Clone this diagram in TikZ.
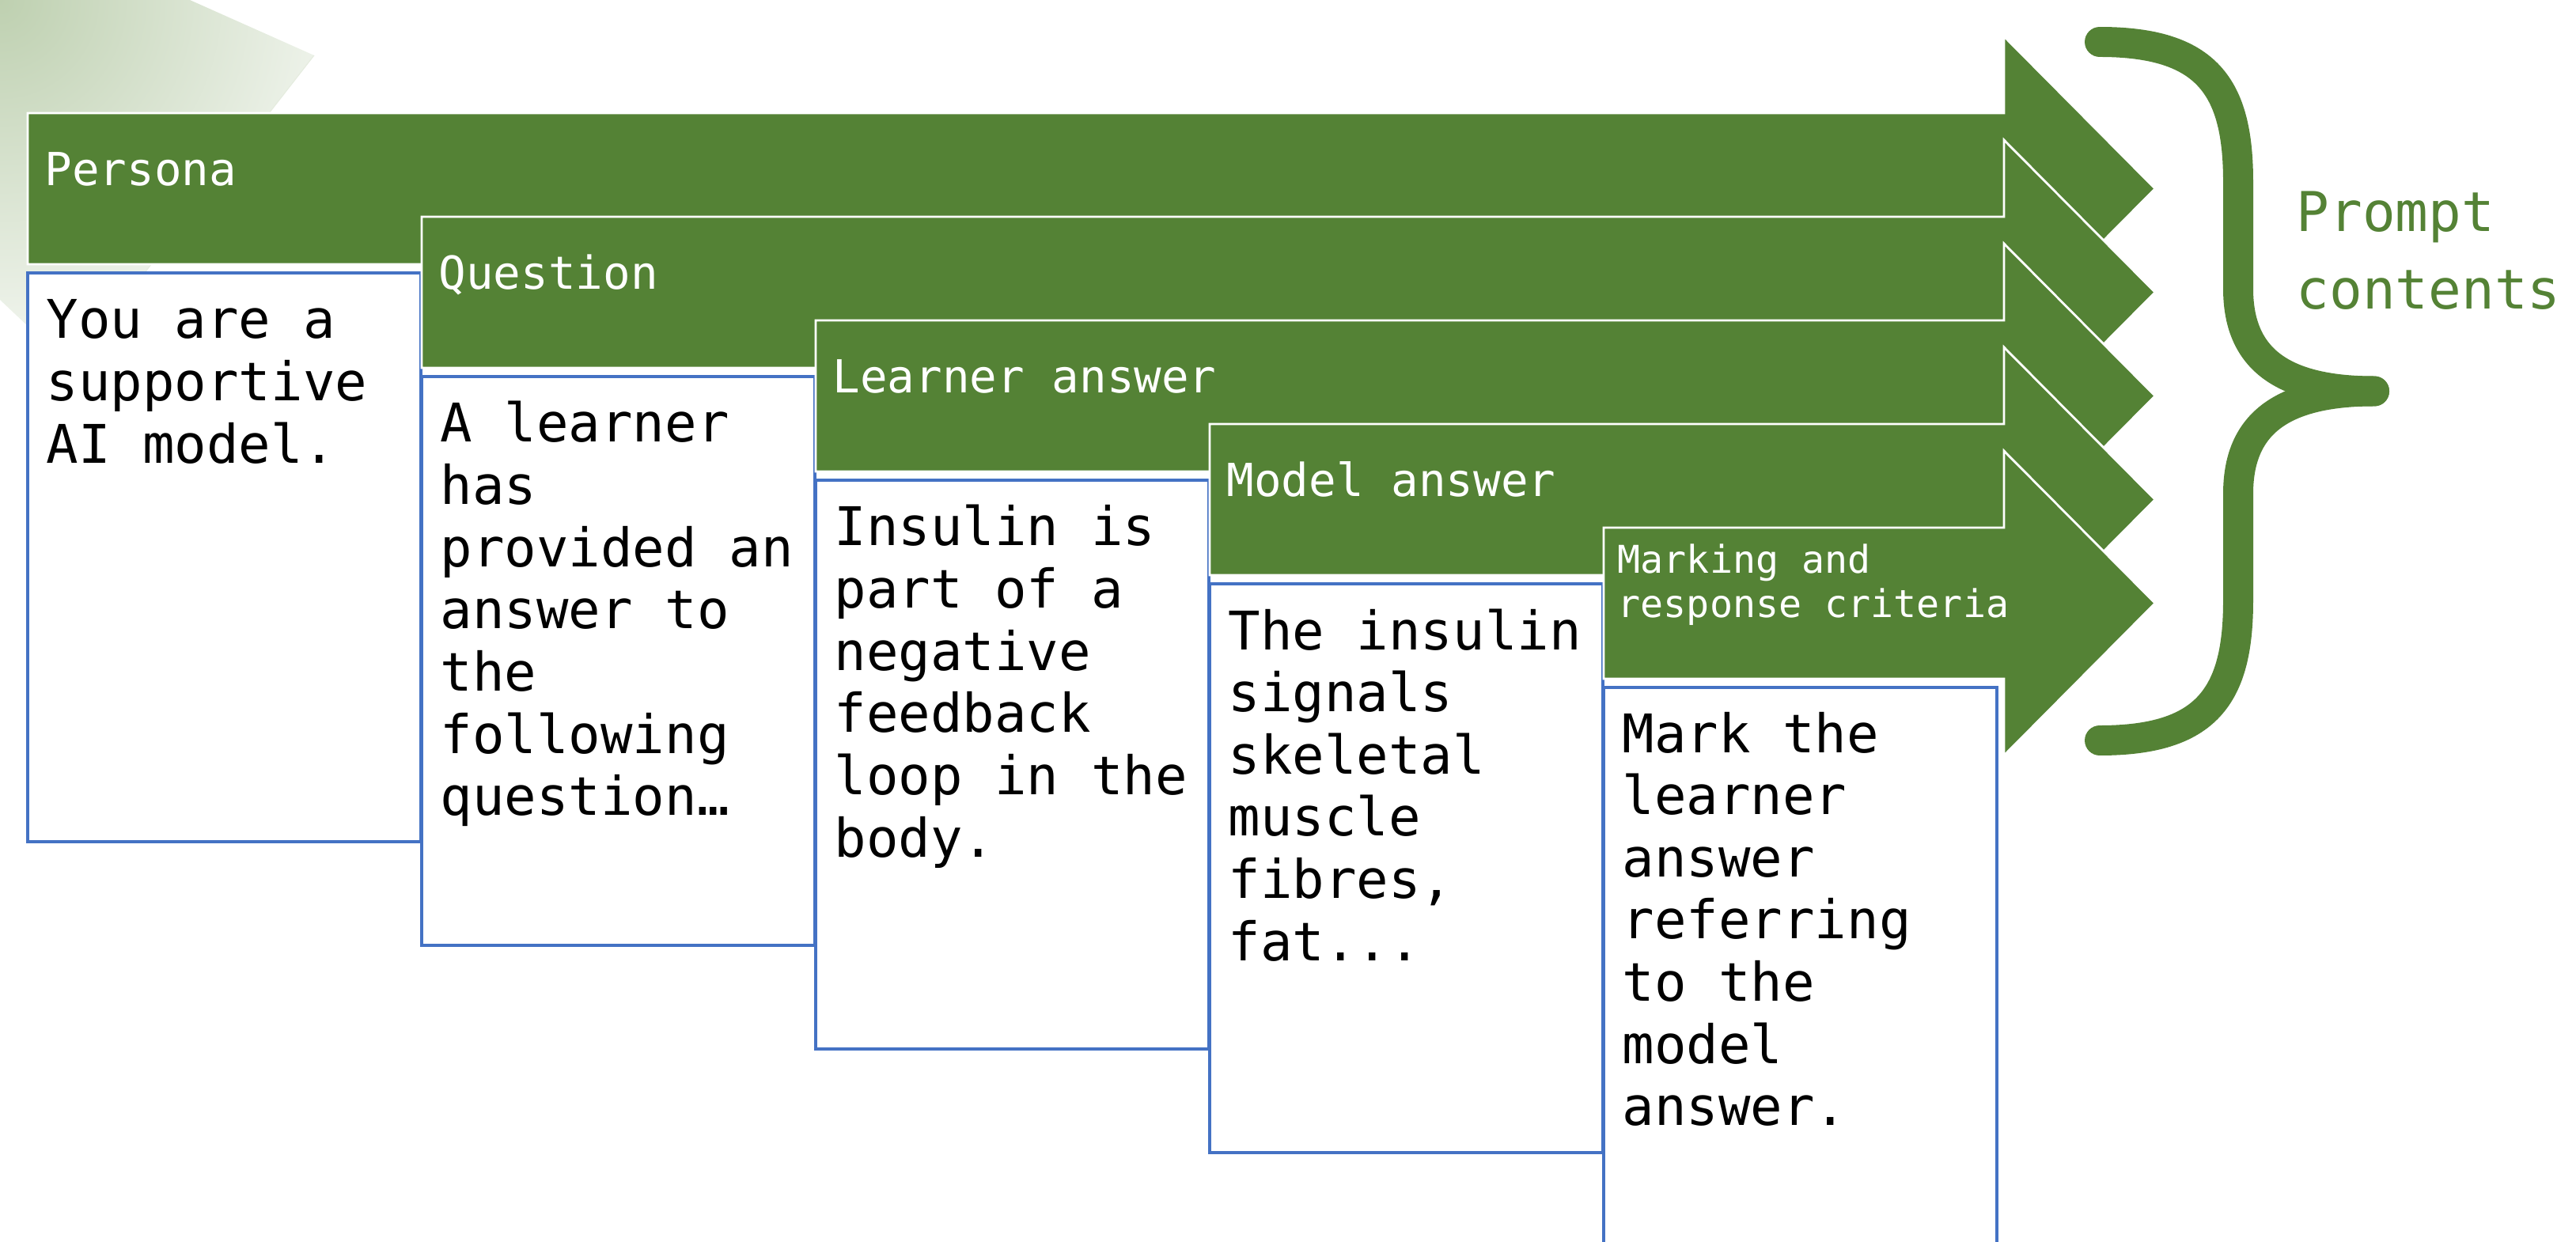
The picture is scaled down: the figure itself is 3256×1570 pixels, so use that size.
\documentclass[tikz,border=0pt]{standalone}
\usepackage{fontspec}
\newfontfamily\monofam{DejaVu Sans Mono}
\definecolor{pgreen}{HTML}{548235}
\definecolor{bblue}{HTML}{4472C4}
\definecolor{bgG}{RGB}{190,208,176}
\newcommand\bodyfont{\monofam\fontsize{19.15pt}{22.36pt}\selectfont}
\newcommand\hdrfont{\monofam\fontsize{16.36pt}{19pt}\selectfont}
\newcommand\smallhdrfont{\monofam\fontsize{13.74pt}{15.8pt}\selectfont}
\newcommand\promptfont{\monofam\fontsize{19.72pt}{27.6pt}\selectfont}
\tikzset{
  band/.style={fill=pgreen, draw=white, line width=0.8pt, line join=miter},
  tbox/.style={fill=white, draw=bblue, line width=1pt},
  hdr/.style={text=white, inner sep=0pt, anchor=base west, font=\hdrfont},
  btext/.style={text=black, inner sep=0pt, anchor=base west},
  brace/.style={draw=pgreen, line width=10.8pt, line cap=round, line join=round}
}
\begin{document}
\begin{tikzpicture}[x=0.01cm,y=-0.01cm]
\useasboundingbox (0,0) rectangle (3256,1570);
\clip (0,0) rectangle (3256,1570);
% faint background shape
\begin{scope}
  \clip (0,0) -- (240,0) -- (397,70) -- (90,464) -- (0,379) -- cycle;
  \shade[inner color=bgG, outer color=white] (0,0) circle (560);
\end{scope}
\draw[bgG!40!white, line width=0.3pt] (397,70) -- (90,464);
% bands and boxes
\foreach \k in {0,...,4}{
  \pgfmathsetmacro\L{35+498*\k}
  \pgfmathsetmacro\T{143+131*\k}
  \pgfmathsetmacro\B{\T+191}
  \pgfmathsetmacro\M{\T+95.5}
  \pgfmathsetmacro\HT{\T-97}
  \pgfmathsetmacro\HB{\B+97}
  \pgfmathsetmacro\BT{\T+202}
  \draw[band] (\L,\T) -- (2533,\T) -- (2533,\HT) -- (2724,\M) -- (2533,\HB) -- (2533,\B) -- (\L,\B) -- cycle;
  \draw[tbox] (\L,\BT) rectangle ++(497,719);
}
% header labels
\node[hdr] (h1) at (56,235) {Persona};
\node[hdr] (h2) at (554,366) {Question};
\node[hdr] (h3) at (1052,497) {Learner answer};
\node[hdr] (h4) at (1550,628) {Model answer};
\node[hdr] (h5) at (2044,725) {\parbox[t]{5cm}{\smallhdrfont Marking and\\response criteria}};
% box texts
\node[btext] (b1) at (58,428) {\parbox[t]{5cm}{\bodyfont You are a\\supportive\\AI model.}};
\node[btext] (b2) at (556,559) {\parbox[t]{5cm}{\bodyfont A learner\\has\\provided an\\answer to\\the\\following\\question…}};
\node[btext] (b3) at (1054,690) {\parbox[t]{5cm}{\bodyfont Insulin is\\part of a\\negative\\feedback\\loop in the\\body.}};
\node[btext] (b4) at (1552,821) {\parbox[t]{5cm}{\bodyfont The insulin\\signals\\skeletal\\muscle\\fibres,\\fat...}};
\node[btext] (b5) at (2050,951) {\parbox[t]{5cm}{\bodyfont Mark the\\learner\\answer\\referring\\to the\\model\\answer.}};
% brace
\draw[brace] (2654,53) .. controls (2790,53) and (2829,110) .. (2829,230) -- (2829,365) .. controls (2829,450) and (2880,494.5) .. (3001,494.5);
\draw[brace] (2654,936) .. controls (2790,936) and (2829,879) .. (2829,759) -- (2829,624) .. controls (2829,539) and (2880,494.5) .. (3001,494.5);
% prompt contents
\node[btext, text=pgreen] (pc) at (2902,293) {\parbox[t]{5cm}{\promptfont Prompt\\contents}};
\end{tikzpicture}
\end{document}
